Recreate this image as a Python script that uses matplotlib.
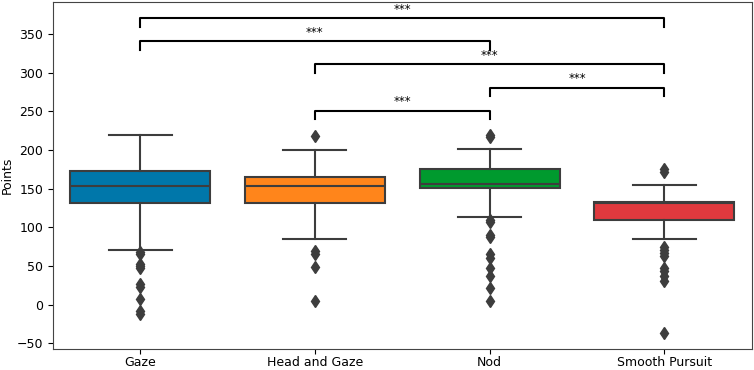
import matplotlib
matplotlib.use("Agg")
import matplotlib.pyplot as plt

groups = ["Gaze", "Head and Gaze", "Nod", "Smooth Pursuit"]
colors = ["#0077aa", "#ff851b", "#009a2e", "#e0393e"]

# box statistics
q1 = [132, 132, 151, 110]
med = [153, 153, 156, 131]
q3 = [173, 165, 176, 133]
whis_lo = [71, 85, 114, 85]
whis_hi = [219, 200, 201, 155]
outliers = [
    [68, 65, 52, 50, 47, 27, 23, 7, -9, -12],
    [218, 69, 65, 48, 4],
    [220, 217, 110, 107, 90, 87, 65, 60, 47, 37, 22, 4],
    [176, 172, 75, 71, 67, 63, 47, 43, 37, 30, -37],
]

# significance brackets: (left group, right group, height)
pairs = [(0, 3, 371), (0, 2, 341), (1, 3, 311), (2, 3, 281), (1, 2, 251)]
labels = ["***"] * 5

fig = plt.figure(figsize=(7.54, 3.70), dpi=100)
ax = fig.add_axes([0.07, 0.058, 0.927, 0.937])

stats = []
for i in range(len(groups)):
    stats.append({"q1": q1[i], "med": med[i], "q3": q3[i],
                  "whislo": whis_lo[i], "whishi": whis_hi[i],
                  "fliers": outliers[i]})

edge = "#3d3d3d"
bp = ax.bxp(stats, positions=range(len(groups)), widths=0.8, patch_artist=True,
            showcaps=True,
            boxprops=dict(edgecolor=edge, linewidth=1.5),
            medianprops=dict(color=edge, linewidth=1.5),
            whiskerprops=dict(color=edge, linewidth=1.5),
            capprops=dict(color=edge, linewidth=1.5),
            capwidths=0.36,
            flierprops=dict(marker="d", markerfacecolor=edge, markeredgecolor=edge,
                            markersize=6))
for patch, c in zip(bp["boxes"], colors):
    patch.set_facecolor(c)

for (a, b, h), lab in zip(pairs, labels):
    ax.plot([a, a, b, b], [h - 11, h, h, h - 11], color="black", linewidth=1.5)
    ax.text((a + b) / 2, h + 3, lab, ha="center", va="bottom", fontsize=8.5)

ax.set_xlim(-0.5, 3.5)
ax.set_ylim(-57, 392)
ax.set_yticks(range(-50, 351, 50))
ax.set_xticks(range(len(groups)))
ax.set_xticklabels(groups)
ax.tick_params(labelsize=9)
ax.tick_params(axis="x", pad=2)
ax.set_ylabel("Points", fontsize=9, labelpad=2)
for s in ax.spines.values():
    s.set_color("#444444")

fig.savefig("out.png", dpi=100)
